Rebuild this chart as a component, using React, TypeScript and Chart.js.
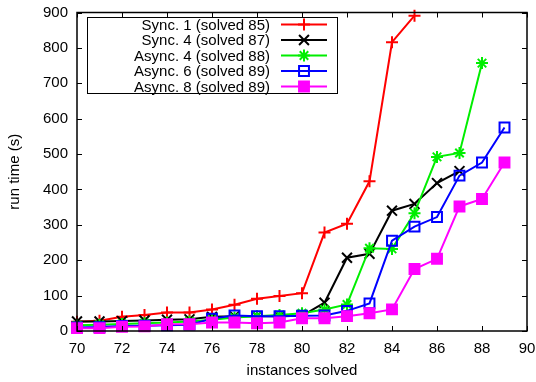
import React, { useEffect, useRef } from 'react';
import { Chart, registerables } from 'chart.js';

Chart.register(...registerables);

const instances = [70, 71, 72, 73, 74, 75, 76, 77, 78, 79, 80, 81, 82, 83, 84, 85, 86, 87, 88, 89];

const sync1 = [26, 29, 40, 45, 52, 52, 61, 74, 91, 99, 107, 278, 303, 423, 816, 891];
const sync4 = [27, 27, 28, 30, 32, 33, 40, 42, 42, 42, 43, 80, 207, 218, 340, 359, 418, 452];
const async4 = [16, 18, 20, 22, 24, 27, 32, 38, 42, 45, 50, 61, 75, 234, 232, 333, 492, 503, 757];
const async6 = [10, 11, 14, 15, 16, 18, 35, 44, 42, 42, 43, 44, 57, 78, 255, 295, 322, 439, 476, 575];
const async8 = [8, 8, 12, 13, 19, 19, 24, 24, 22, 24, 36, 36, 42, 50, 61, 175, 204, 352, 373, 476];

const seriesLabels = [
  'Sync. 1 (solved 85)',
  'Sync. 4 (solved 87)',
  'Async. 4 (solved 88)',
  'Async. 6 (solved 89)',
  'Async. 8 (solved 89)',
];

const xTitle = 'instances solved';
const yTitle = 'run time (s)';

const FONT = '"Liberation Sans", Arial, Helvetica, sans-serif';

const toPoints = (vals: number[]) => vals.map((v, i) => ({ x: instances[i], y: v }));

type Marker = { style: string; color: string; fill: string; r: number };

const markers: Marker[] = [
  { style: 'cross', color: '#ff0000', fill: '#ff0000', r: 6 },
  { style: 'crossRot', color: '#000000', fill: '#000000', r: 7 },
  { style: 'star', color: '#00ee00', fill: '#00ee00', r: 6 },
  { style: 'rect', color: '#0000ff', fill: 'rgba(0,0,0,0)', r: 7 },
  { style: 'rect', color: '#ff00ff', fill: '#ff00ff', r: 7 },
];

function drawMarker(ctx: CanvasRenderingContext2D, m: Marker, x: number, y: number) {
  ctx.save();
  ctx.strokeStyle = m.color;
  ctx.fillStyle = m.fill;
  ctx.lineWidth = 2;
  const r = m.r;
  ctx.beginPath();
  if (m.style === 'cross' || m.style === 'star') {
    ctx.moveTo(x - r, y);
    ctx.lineTo(x + r, y);
    ctx.moveTo(x, y - r);
    ctx.lineTo(x, y + r);
  }
  if (m.style === 'crossRot' || m.style === 'star') {
    const d = r * Math.SQRT1_2;
    ctx.moveTo(x - d, y - d);
    ctx.lineTo(x + d, y + d);
    ctx.moveTo(x - d, y + d);
    ctx.lineTo(x + d, y - d);
  }
  if (m.style === 'rect') {
    const s = r * Math.SQRT1_2;
    ctx.rect(x - s, y - s, 2 * s, 2 * s);
    ctx.fill();
  }
  ctx.stroke();
  ctx.restore();
}

const framePlugin = {
  id: 'frame',
  afterDatasetsDraw(chart: any) {
    const { ctx, chartArea } = chart;
    const { left, right, top, bottom } = chartArea;
    const xs = chart.scales.x;
    const ys = chart.scales.y;
    ctx.save();
    ctx.strokeStyle = '#000';
    ctx.lineWidth = 1.5;
    ctx.strokeRect(left, top, right - left, bottom - top);
    ctx.lineWidth = 1;
    const tl = 5;
    ctx.beginPath();
    xs.ticks.forEach((t: any) => {
      const px = Math.round(xs.getPixelForValue(t.value)) + 0.5;
      ctx.moveTo(px, bottom);
      ctx.lineTo(px, bottom - tl);
      ctx.moveTo(px, top);
      ctx.lineTo(px, top + tl);
    });
    ys.ticks.forEach((t: any) => {
      const py = Math.round(ys.getPixelForValue(t.value)) + 0.5;
      ctx.moveTo(left, py);
      ctx.lineTo(left + tl, py);
      ctx.moveTo(right, py);
      ctx.lineTo(right - tl, py);
    });
    ctx.stroke();
    ctx.restore();
  },
};

const legendPlugin = {
  id: 'customLegend',
  afterDraw(chart: any) {
    const { ctx } = chart;
    const boxL = 87, boxT = 17, boxR = 337, boxB = 93;
    ctx.save();
    ctx.fillStyle = '#fff';
    ctx.fillRect(boxL, boxT, boxR - boxL, boxB - boxT);
    ctx.strokeStyle = '#000';
    ctx.lineWidth = 1;
    ctx.strokeRect(boxL + 0.5, boxT + 0.5, boxR - boxL, boxB - boxT);
    ctx.font = `15px ${FONT}`;
    ctx.textAlign = 'right';
    ctx.textBaseline = 'middle';
    chart.data.datasets.forEach((ds: any, i: number) => {
      const y = 24.5 + i * 15.5;
      ctx.fillStyle = '#000';
      ctx.fillText(ds.label, 270, y + 1);
      ctx.strokeStyle = ds.borderColor;
      ctx.lineWidth = 2;
      ctx.beginPath();
      ctx.moveTo(281, y);
      ctx.lineTo(327, y);
      ctx.stroke();
      drawMarker(ctx, markers[i], 304, y);
    });
    ctx.restore();
  },
};

export default function App() {
  const canvasRef = useRef<HTMLCanvasElement | null>(null);

  useEffect(() => {
    const canvas = canvasRef.current;
    if (!canvas) return;
    Chart.defaults.font.family = FONT;
    Chart.defaults.font.size = 15;
    Chart.defaults.color = '#000';

    const allSeries = [sync1, sync4, async4, async6, async8];
    const datasets = allSeries.map((vals, i) => ({
      label: seriesLabels[i],
      data: toPoints(vals),
      borderColor: markers[i].color,
      backgroundColor: markers[i].fill,
      pointStyle: markers[i].style,
      pointRadius: markers[i].r,
      pointHoverRadius: markers[i].r,
      pointBorderColor: markers[i].color,
      pointBackgroundColor: markers[i].fill,
      pointBorderWidth: 2,
      borderWidth: 2,
      tension: 0,
      fill: false,
      clip: false as any,
      order: 5 - i,
    }));

    const chart = new Chart(canvas, {
      type: 'line',
      data: { datasets },
      options: {
        responsive: false,
        animation: false,
        layout: { padding: { top: 12.5, right: 9, left: 0, bottom: 0 } },
        plugins: {
          legend: { display: false },
          tooltip: { enabled: false },
        },
        scales: {
          x: {
            type: 'linear',
            min: 70,
            max: 90,
            grid: { display: false, drawTicks: false },
            border: { display: false },
            ticks: { stepSize: 2, padding: 9, color: '#000', font: { size: 15 } },
            title: {
              display: true,
              text: xTitle,
              color: '#000',
              font: { size: 15 },
              padding: { top: 0, bottom: 2 },
            },
            afterFit: (s: any) => {
              s.height = 51;
              s.paddingLeft = 0;
              s.paddingRight = 0;
            },
          },
          y: {
            type: 'linear',
            min: 0,
            max: 900,
            grid: { display: false, drawTicks: false },
            border: { display: false },
            ticks: { stepSize: 100, padding: 9, color: '#000', font: { size: 15 } },
            title: {
              display: true,
              text: yTitle,
              color: '#000',
              font: { size: 15 },
              padding: { top: 6, bottom: 0 },
            },
            afterFit: (s: any) => {
              s.width = 77;
              s.paddingTop = 0;
              s.paddingBottom = 0;
            },
          },
        },
      },
      plugins: [framePlugin, legendPlugin],
    });

    return () => chart.destroy();
  }, []);

  return (
    <div style={{ position: 'fixed', left: 0, top: 0, width: 536, height: 382, background: '#fff' }}>
      <canvas ref={canvasRef} width={536} height={382} style={{ display: 'block', width: 536, height: 382 }} />
    </div>
  );
}
